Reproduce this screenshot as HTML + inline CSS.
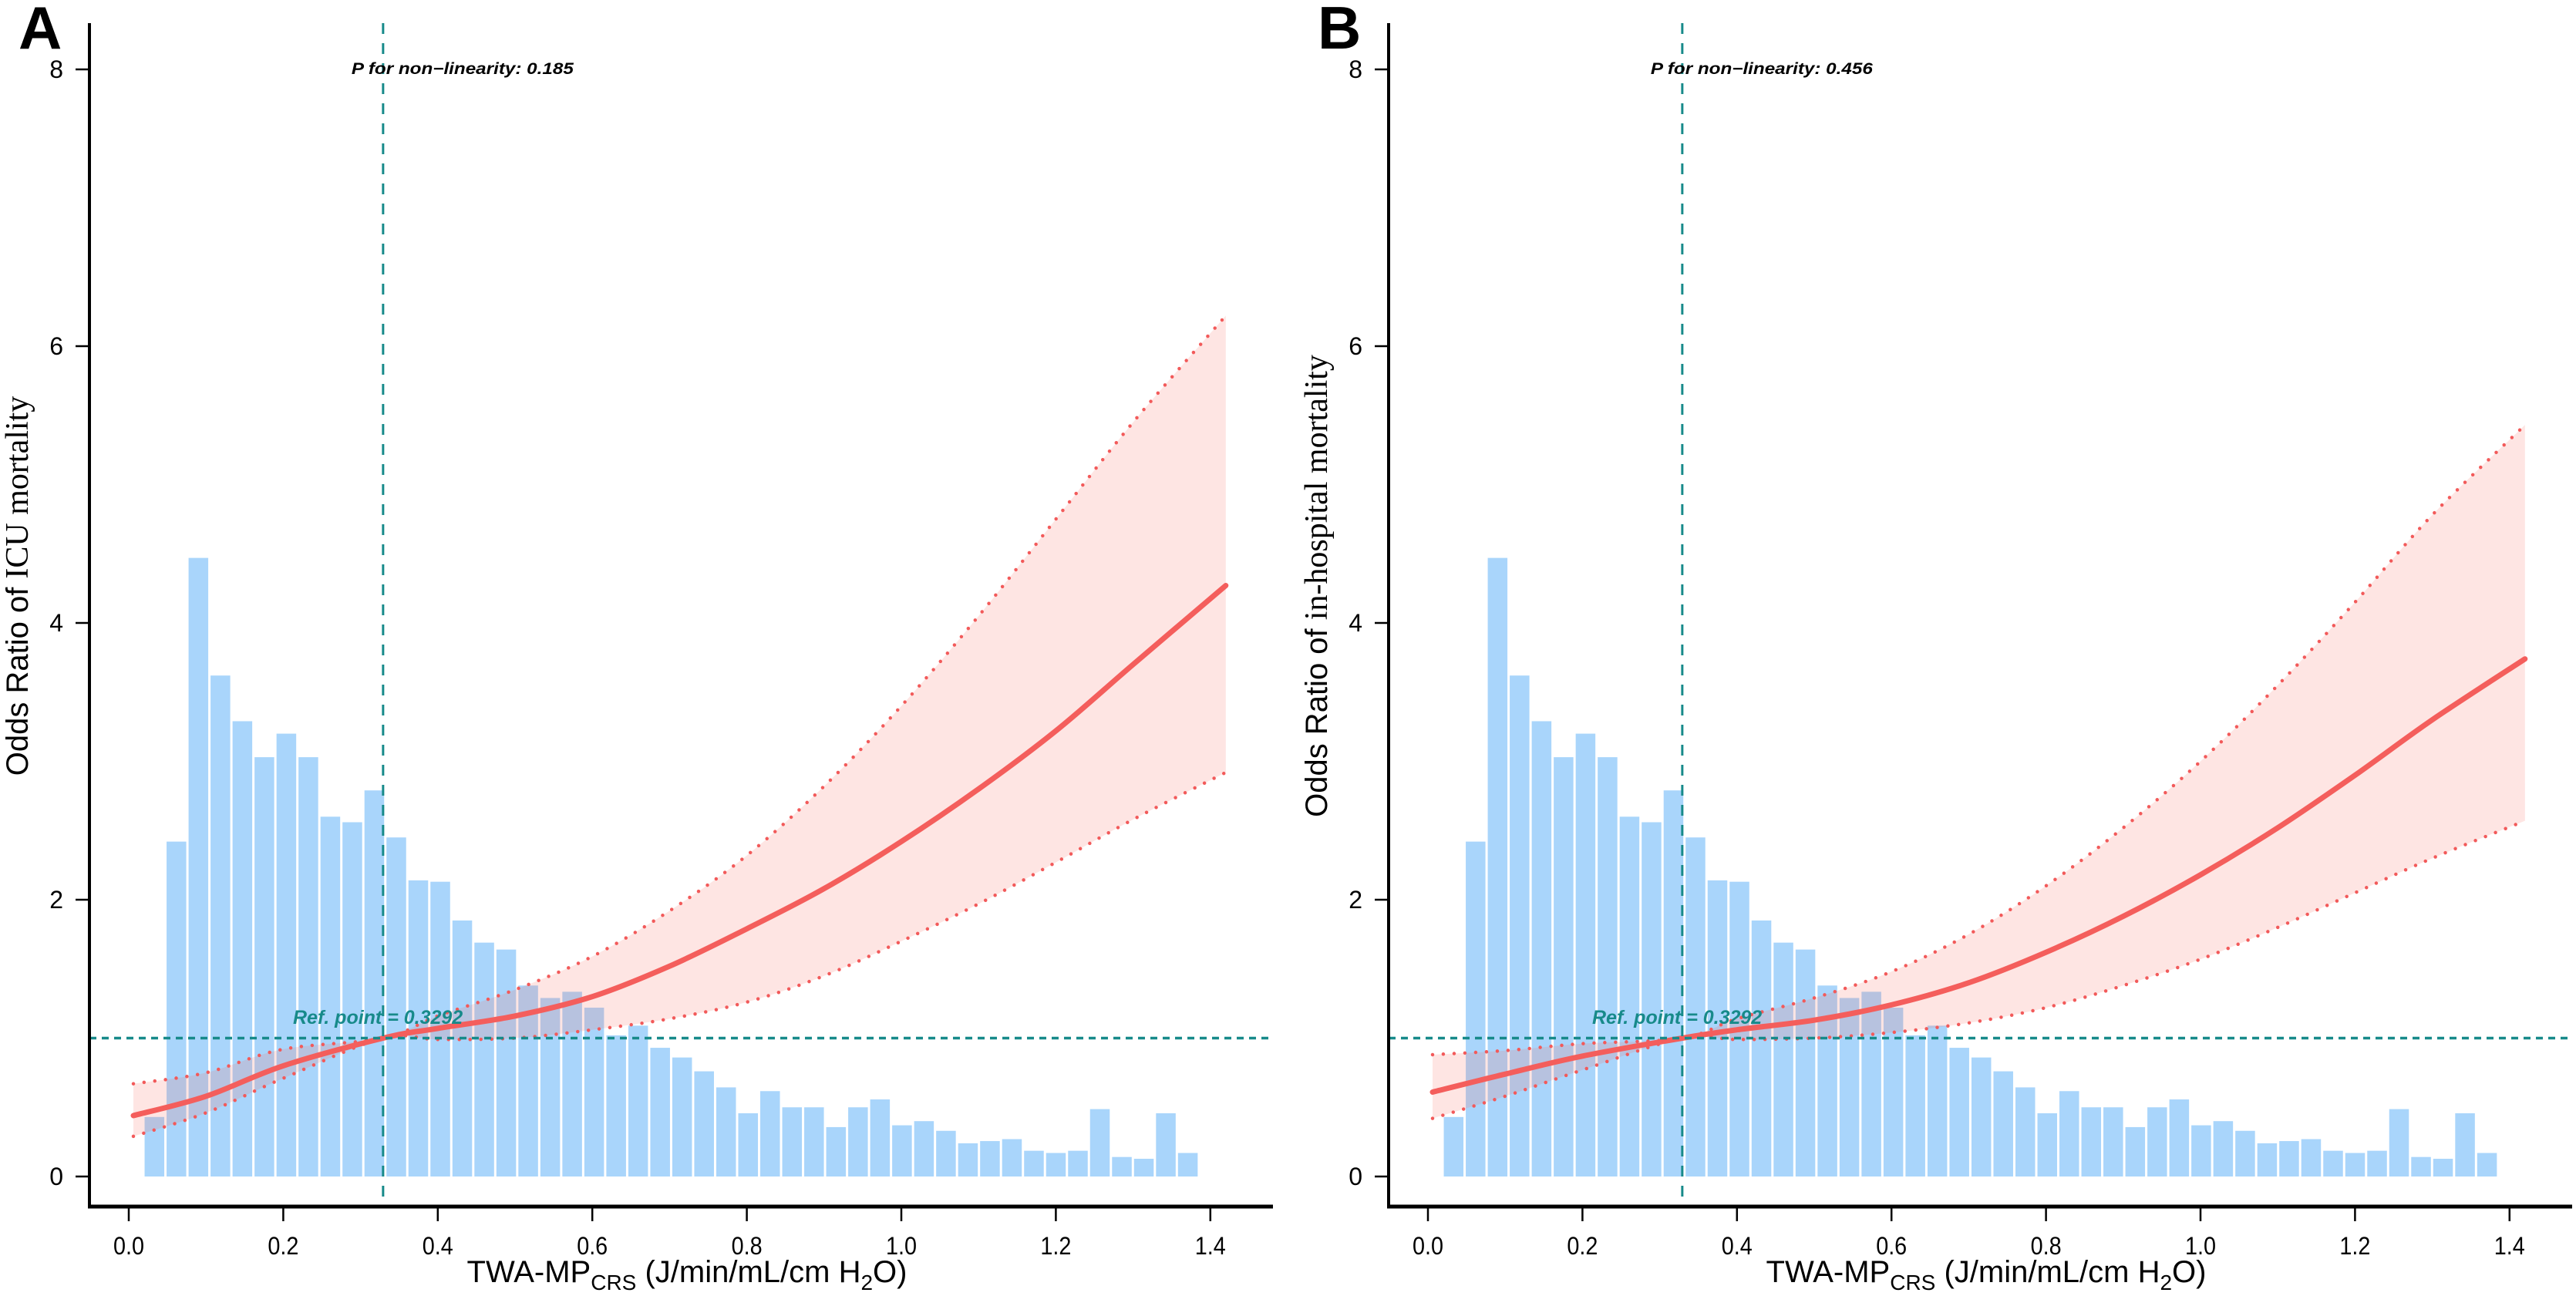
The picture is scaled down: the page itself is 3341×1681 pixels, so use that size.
<!DOCTYPE html>
<html><head><meta charset="utf-8"><style>
html,body{margin:0;padding:0;background:#fff;}
svg{display:block;}
text{font-family:"Liberation Sans",sans-serif;}
</style></head><body>
<svg id="chart" width="3341" height="1681" viewBox="0 0 3341 1681" xmlns="http://www.w3.org/2000/svg"></svg>
<script>
// ---- data ----
const binStart = 0.019;
const binWidth = 0.02846;
const histCounts = [0.43,2.42,4.47,3.62,3.29,3.03,3.20,3.03,2.60,2.56,2.79,2.45,2.14,2.13,1.85,1.69,1.64,1.38,1.29,1.335,1.22,1.02,1.09,0.93,0.86,0.76,0.644,0.457,0.617,0.50,0.50,0.357,0.50,0.557,0.37,0.40,0.33,0.24,0.256,0.27,0.186,0.17,0.186,0.487,0.141,0.128,0.457,0.17];
const curveX = [0.006,0.1,0.2,0.3292,0.4,0.5,0.6,0.7,0.8,0.9,1.0,1.1,1.2,1.3,1.42];
const fitA = [0.44,0.58,0.80,1.0,1.07,1.16,1.30,1.52,1.79,2.08,2.42,2.80,3.22,3.70,4.27];
const loA  = [0.29,0.46,0.71,1.0,0.99,1.0,1.06,1.14,1.26,1.45,1.70,1.97,2.27,2.58,2.92];
const hiA  = [0.67,0.75,0.92,1.0,1.16,1.35,1.59,1.92,2.32,2.82,3.40,4.05,4.75,5.45,6.22];
const fitB = [0.61,0.74,0.87,1.0,1.06,1.13,1.24,1.40,1.62,1.88,2.18,2.52,2.90,3.30,3.74];
const loB  = [0.42,0.58,0.77,1.0,0.99,1.0,1.04,1.11,1.22,1.38,1.57,1.80,2.05,2.30,2.57];
const hiB  = [0.88,0.91,0.96,1.0,1.14,1.29,1.48,1.75,2.10,2.52,3.00,3.55,4.15,4.78,5.43];
const xTicks = [0.0,0.2,0.4,0.6,0.8,1.0,1.2,1.4];
const xTickLabels = ["0.0","0.2","0.4","0.6","0.8","1.0","1.2","1.4"];
const yTicks = [0,2,4,6,8];
const yTickLabels = ["0","2","4","6","8"];
const refPoint = 0.3292;
const refOR = 1;

const NS="http://www.w3.org/2000/svg";
const svg=document.getElementById('chart');
function mk(tag,attrs,parent){const e=document.createElementNS(NS,tag);for(const k in attrs)e.setAttribute(k,attrs[k]);(parent||svg).appendChild(e);return e;}

function smoothPath(pts){
  let d="M"+pts[0][0].toFixed(1)+","+pts[0][1].toFixed(1);
  for(let i=0;i<pts.length-1;i++){
    const p0=pts[Math.max(0,i-1)],p1=pts[i],p2=pts[i+1],p3=pts[Math.min(pts.length-1,i+2)];
    const c1=[p1[0]+(p2[0]-p0[0])/6,p1[1]+(p2[1]-p0[1])/6];
    const c2=[p2[0]-(p3[0]-p1[0])/6,p2[1]-(p3[1]-p1[1])/6];
    d+=" C"+c1[0].toFixed(1)+","+c1[1].toFixed(1)+" "+c2[0].toFixed(1)+","+c2[1].toFixed(1)+" "+p2[0].toFixed(1)+","+p2[1].toFixed(1);
  }
  return d;
}

function panel(off,letter,fit,lo,hi,pText,titleSans,titleSerif,nm){
  const g=mk('g',{});
  
  
  const x0=167+off, xs=1002;
  const sx=v=>x0+v*xs;
  const sy=v=>1526-v*179.5;
  const axL=116+off, axR=1651+off, axB=1565, axT=30;
  const bars=mk('g',{},g);
  
  
  histCounts.forEach((c,i)=>{
    const a=binStart+i*binWidth;
    const r=mk('rect',{x:sx(a)+1.5,y:sy(c),width:binWidth*xs-3,height:sy(0)-sy(c),fill:'#a9d5fb'},bars);
    
    
  });
  const up=curveX.map((x,i)=>[sx(x),sy(hi[i])]);
  const dn=curveX.map((x,i)=>[sx(x),sy(lo[i])]);
  const fitP=curveX.map((x,i)=>[sx(x),sy(fit[i])]);
  const dn2=dn.slice().reverse();
  let band=smoothPath(up)+" L"+dn2[0][0]+","+dn2[0][1]+" "+smoothPath(dn2).slice(1).replace(/^[^C]*/,'')+" Z";
  const b=mk('path',{d:band,fill:'rgba(250,110,100,0.18)',stroke:'none'},g);
  
  
  const u=mk('path',{d:smoothPath(up),fill:'none',stroke:'#f25a5a','stroke-width':4.5,'stroke-dasharray':'0 14','stroke-linecap':'round'},g);
  
  
  const l=mk('path',{d:smoothPath(dn),fill:'none',stroke:'#f25a5a','stroke-width':4.5,'stroke-dasharray':'0 14','stroke-linecap':'round'},g);
  
  
  const f=mk('path',{d:smoothPath(fitP),fill:'none',stroke:'#f45e5c','stroke-width':7,'stroke-linecap':'round'},g);
  
  
  const hl=mk('line',{x1:axL,x2:axR,y1:sy(refOR),y2:sy(refOR),stroke:'#178a8a','stroke-width':3.5,'stroke-dasharray':'9 7'},g);
  
  
  const vl=mk('line',{x1:sx(refPoint),x2:sx(refPoint),y1:axT,y2:axB,stroke:'#178a8a','stroke-width':3,'stroke-dasharray':'14 12'},g);
  
  
  const ya=mk('line',{x1:axL,x2:axL,y1:axT,y2:axB+2,stroke:'#000','stroke-width':4},g);
  
  
  const xa=mk('line',{x1:axL-2,x2:axR,y1:axB,y2:axB,stroke:'#000','stroke-width':5},g);
  
  
  yTicks.forEach((v,i)=>{
    const t=mk('line',{x1:axL-18,x2:axL,y1:sy(v),y2:sy(v),stroke:'#000','stroke-width':2.5},g);
    
    
    const tx=mk('text',{x:axL-34,y:sy(v)+11,'text-anchor':'end','font-size':32},g);
    tx.textContent=yTickLabels[i];
    
    
  });
  xTicks.forEach((v,i)=>{
    const t=mk('line',{x1:sx(v),x2:sx(v),y1:axB,y2:axB+19,stroke:'#000','stroke-width':2.5},g);
    
    
    const tx=mk('text',{x:sx(v),y:1627,'text-anchor':'middle','font-size':32,textLength:40,lengthAdjust:'spacingAndGlyphs'},g);
    tx.textContent=xTickLabels[i];
    
    
  });
  const L=mk('text',{x:24+off,y:63,'font-size':78,'font-weight':'bold'},g);
  L.textContent=letter;
  
  
  const P=mk('text',{x:sx(refPoint)-41,y:96,'font-size':21,'font-weight':'bold','font-style':'italic',textLength:288,lengthAdjust:'spacingAndGlyphs'},g);
  P.textContent=pText;
  
  
  const R=mk('text',{x:380+off,y:1328,'font-size':25,'font-weight':'bold','font-style':'italic',fill:'#178a8a'},g);
  R.textContent='Ref. point = 0.3292';
  
  
  const yt=mk('text',{x:0,y:0,'font-size':40,'text-anchor':'middle',transform:`translate(${36+off},760) rotate(-90)`},g);
  
  
  const s1=mk('tspan',{},yt); s1.textContent=titleSans;
  const s2=mk('tspan',{'font-family':'"Liberation Serif",serif','font-size':42},yt); s2.textContent=titleSerif;
  const xt=mk('text',{x:891+off,y:1663,'font-size':40,'text-anchor':'middle'},g);
  
  
  const parts=[['TWA-MP',0,40],['CRS',10,28],[' (J/min/mL/cm H',-10,40],['2',10,28],['O)',-10,40]];
  parts.forEach(p=>{const t=mk('tspan',{dy:p[1],'font-size':p[2]},xt);t.textContent=p[0];});
}
panel(0,'A',fitA,loA,hiA,'P for non\u2212linearity: 0.185','Odds Ratio of ','ICU mortality','panel-a');
panel(1685,'B',fitB,loB,hiB,'P for non\u2212linearity: 0.456','Odds Ratio of ','in-hospital mortality','panel-b');
</script>
</body></html>
